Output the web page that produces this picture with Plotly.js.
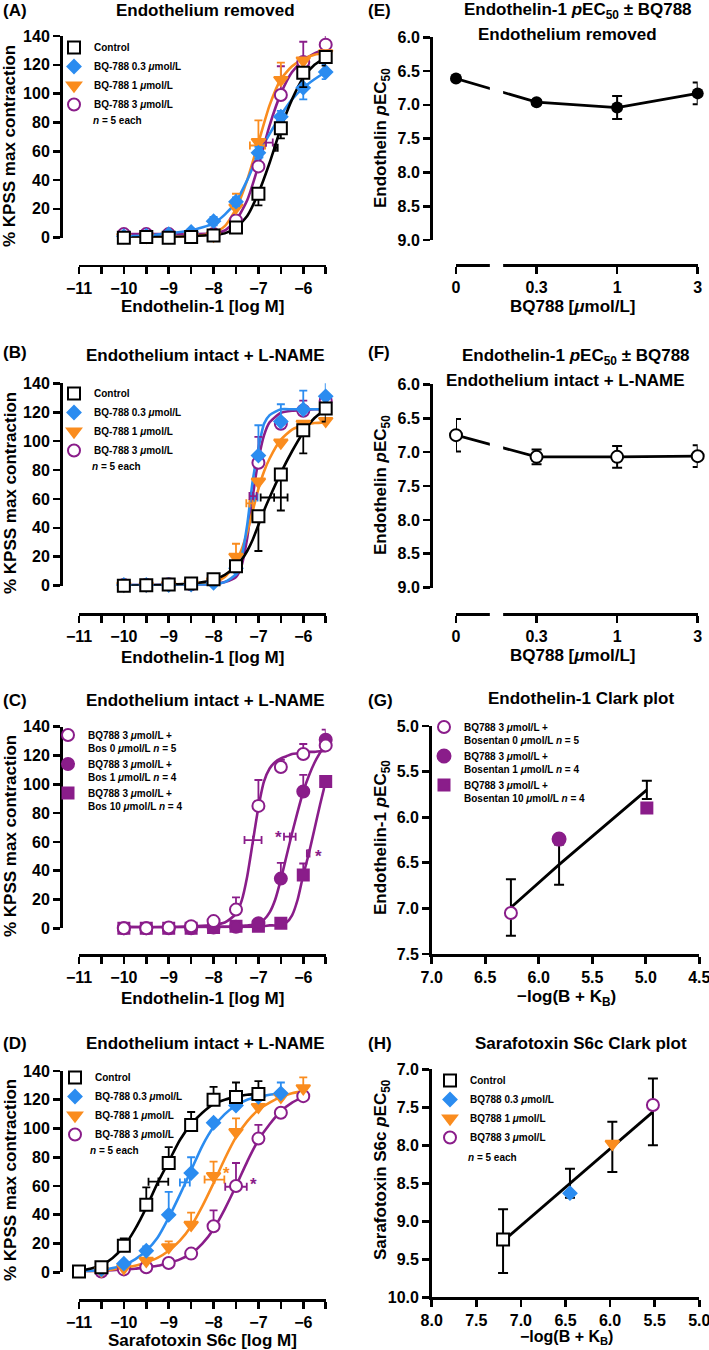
<!DOCTYPE html>
<html><head><meta charset="utf-8">
<script src="https://cdn.plot.ly/plotly-3.0.1.min.js"></script>
<style>html,body{margin:0;padding:0;background:#fff}</style>
</head><body><div id="chart" style="width:709px;height:1350px"></div>
<script>
// ================= DATA =================
// Panels A-C: agonist concentrations (log M)
const concAC = [-10, -9.5, -9, -8.5, -8, -7.5, -7, -6.5, -6, -5.5];

// (A) Endothelium removed
const A_ctrl = [0, 0.5, 0, 0.5, 1.5, 7, 30.5, 76, 114.5, 125.5];
const A_ctrl_lo = [0, 0, 0, 0, 0, 0, 8, 7, 10, 6];
const A_bq03 = [1, 1.5, 2.5, 4, 11.5, 25, 59, 84, 104, 115];
const A_bq03_err = [0, 0, 0, 0, 3, 3, 4, 4, 8, 5];
const A_bq1 = [0.5, 0.5, 0.5, 1, 1.5, 21, 66.5, 109.5, 123, 128];
const A_bq1_hi = [0, 0, 0, 0, 0, 9.5, 15, 12, 0, 0];
const A_bq3 = [2.5, 2.5, 2.5, 2.5, 2.5, 12, 49.5, 99, 122, 134];
const A_bq3_hi = [0, 0, 0, 0, 0, 0, 16, 20, 14, 7];
const A_ec50_x = [-6.61, -6.96, -7.02, -6.83];
const A_ec50_y = [62.5, 58, 64, 66];
const A_ec50_err = [0.04, 0.05, 0.17, 0.15];
const cA_x = [-10, -9.5, -9, -8.5, -8, -7.75, -7.5, -7.25, -7, -6.75, -6.5, -6.25, -6, -5.75, -5.5];
const cA_ctrl = [0, 0.3, 0.5, 1, 2, 3, 7, 15, 31, 52, 76, 96, 111, 120, 125];
const cA_bq03 = [1, 1.5, 3, 5, 10, 16, 25, 40, 58, 72, 85, 96, 104, 110, 115];
const cA_bq1 = [0.5, 0.5, 0.5, 1, 3, 8, 20, 40, 66, 92, 110, 119, 124, 127, 128];
const cA_bq3 = [2.5, 2.5, 2.5, 2.5, 3, 5, 12, 26, 50, 78, 100, 115, 123, 128, 131];

// (B) Endothelium intact + L-NAME
const B_ctrl = [0, 0.3, 0.8, 1.5, 4.5, 13.5, 48, 77, 107.5, 122.5];
const B_ctrl_lo = [0, 0, 0, 0, 0, 0, 24, 25, 16, 9];
const B_bq03 = [0.5, 0.5, 0.5, 0.8, 2, 12, 90, 113.5, 122, 131];
const B_bq03_hi = [0, 0, 0, 0, 0, 0, 21, 12, 13, 10];
const B_bq1 = [0, 0, 0.5, 1, 3, 20, 72, 99, 112, 114];
const B_bq1_hi = [0, 0, 0, 0, 0, 9, 0, 0, 0, 0];
const B_bq3 = [0.5, 0.5, 1, 1, 4, 14, 85, 112, 121, 128];
const B_bq3_hi = [0, 0, 0, 0, 0, 0, 18, 0, 7, 0];
const B_ec50_x = [-6.65, -7.1, -7.2, -7.12];
const B_ec50_y = [61, 61, 57, 62];
const B_ec50_err = [0.3, 0.08, 0.07, 0.08];
const cB_x = [-10, -9.5, -9, -8.5, -8, -7.75, -7.5, -7.375, -7.25, -7.125, -7, -6.875, -6.75, -6.5, -6.25, -6, -5.75, -5.5];
const cB_ctrl = [0, 0.3, 0.7, 1.5, 4, 7.5, 13.5, 18, 24, 32, 42, 52, 61, 78, 93, 106, 116, 122];
const cB_bq03 = [0.5, 0.5, 0.5, 0.5, 1, 2.5, 8, 20, 42, 73, 95, 112, 118, 122, 122, 122, 122, 122];
const cB_bq1 = [0, 0, 0.3, 0.7, 2, 6, 16, 25, 37, 52, 67, 79, 88, 101, 108, 111, 112.5, 113];
const cB_bq3 = [0.5, 0.5, 0.5, 0.5, 1, 2.5, 6, 14, 33, 62, 87, 104, 113, 119.5, 121, 121.5, 122, 122];

// (C) BQ788 3 umol/L + bosentan
const C_bos0 = [0, 0, 0.5, 1.5, 5, 13, 85, 112, 121, 127];
const C_bos0_hi = [0, 0, 0, 0, 0, 8.5, 18, 5, 7, 0];
const C_bos1 = [0, 0, 0, 0, 0.5, 1, 3.5, 34.5, 95, 131];
const C_bos1_hi = [0, 0, 0, 0, 0, 0, 0, 11, 11.5, 7];
const C_bos10 = [0, 0, 0, 0, 0.5, 1.5, 1.5, 3.5, 37, 102];
const C_bos10_hi = [0, 0, 0, 0, 0, 0, 0, 0, 8, 0];
const C_ec50_x = [-7.12, -6.30, -5.89];
const C_ec50_y = [61.3, 63.6, 52];
const C_ec50_err = [0.19, 0.13, 0.03];
const C_star_x = [-6.56, -5.66];
const C_star_y = [63, 50];
const cC_x = [-10, -9, -8, -7.75, -7.5, -7.375, -7.25, -7.125, -7, -6.875, -6.75, -6.625, -6.5, -6.375, -6.25, -6.125, -6, -5.875, -5.75, -5.625, -5.5];
const cC_bos0 = [1, 1, 2.5, 4, 10, 19, 36, 60, 84, 102, 111, 115.5, 118, 119.5, 121, 121.5, 122, 122.5, 122.5, 123, 123];
const cC_bos1 = [0.5, 0.5, 1, 1, 1.5, 1.5, 2, 2.5, 3.5, 6, 11, 20, 34, 50, 66, 81, 95, 106, 115, 122, 128];
const cC_bos10 = [0.5, 0.5, 1, 1, 1, 1, 1, 1, 1.5, 1.5, 2, 2, 2.5, 4, 9, 20, 37, 52, 69, 86, 102];

// (D) Sarafotoxin S6c
const D_ctrl_x = [-11, -10.5, -10, -9.5, -9, -8.5, -8, -7.5, -7];
const D_ctrl = [0.5, 3.5, 18.5, 47, 76, 102.5, 120, 122, 124];
const D_ctrl_hi = [0, 0, 5, 12, 11, 9, 9, 10, 9];
const D_bq03_x = [-10.5, -10, -9.5, -9, -8.5, -8, -7.5, -7, -6.5];
const D_bq03 = [2, 6, 15, 40, 69, 104, 116, 122, 124.5];
const D_bq03_hi = [0, 0, 3, 16, 11, 0, 0, 0, 7.5];
const D_bq1_x = [-10.5, -10, -9.5, -9, -8.5, -8, -7.5, -7, -6.5, -6];
const D_bq1 = [1, 3, 8, 17.5, 33, 67, 97.5, 115, 122, 128];
const D_bq1_hi = [0, 0, 0, 4, 8.5, 10, 9.5, 0, 0, 7.5];
const D_bq3_x = [-10.5, -10, -9.5, -9, -8.5, -8, -7.5, -7, -6.5, -6];
const D_bq3 = [0.5, 2, 3.5, 6.5, 13, 32, 60, 93, 111, 122.5];
const D_bq3_hi = [0, 0, 0, 0, 0, 11, 16, 9.5, 0, 0];
const D_ec50_x = [-9.23, -8.64, -7.98, -7.5];
const D_ec50_y = [63, 62.5, 64.5, 59.5];
const D_ec50_err = [0.22, 0.11, 0.22, 0.24];
const D_star_x = [-7.71, -7.1];
const D_star_y = [69, 61];
const cD_x = [-11, -10.75, -10.5, -10.25, -10, -9.75, -9.5, -9.25, -9, -8.75, -8.5, -8.25, -8, -7.75, -7.5, -7.25, -7, -6.75, -6.5, -6.25, -6];
const cD_ctrl = [1, 2.5, 5, 10, 18, 30, 45, 62, 77, 92, 103, 111, 117, 120, 122, 123.5, 124];
const cD_bq03 = [0.5, 1, 1.5, 3, 5, 9, 15, 24, 38, 54, 71, 88, 101, 110, 116, 120, 122, 123.5, 124.5];
const cD_bq1 = [0.5, 0.5, 1, 2, 3, 4.5, 7, 10, 15, 22, 32, 46, 62, 79, 94, 105, 113, 118, 122, 124.5, 126];
const cD_bq3 = [0.5, 0.5, 1, 1.5, 2, 2.5, 3.5, 4.5, 6.5, 9, 13, 20, 30, 44, 60, 77, 92, 103, 112, 118, 122];

// (E)/(F) pEC50 vs BQ788
const bqLabels = ["0", "0.3", "1", "3"];
const E_pec50 = [6.61, 6.96, 7.04, 6.83];
const E_err = [0.02, 0.03, 0.17, 0.16];
const F_pec50 = [6.75, 7.07, 7.07, 7.06];
const F_err = [0.24, 0.11, 0.16, 0.16];

// (G) Endothelin-1 Clark plot
const G_x = [6.26, 5.81, 4.99];
const G_y = [7.05, 6.24, 5.90];
const G_fit = [6.99, 6.52, 5.70];
const G_err = [0.31, 0.22, 0.10];

// (H) Sarafotoxin S6c Clark plot
const H_x = [7.2, 6.45, 5.975, 5.52];
const H_y = [9.24, 8.63, 7.98, 7.47];
const H_fit = [9.26, 8.50, 8.02, 7.56];
const H_err = [0.42, 0.19, 0.33, 0.44];

// tick labels
const doseTicks = [-11, -10, -9, -8, -7, -6];
const doseTickText = ['\u221211', '\u221210', '\u22129', '\u22128', '\u22127', '\u22126'];

// ================= STYLE =================
const FONT = '"Liberation Sans", Arial, Helvetica, sans-serif';
const BLACK = '#000000', BLUE = '#2B8CF0', ORANGE = '#FA8C1E', PURPLE = '#8A1D8A';
const W = 709, H = 1350;
const px = v => v / W;
const py = v => 1 - v / H;
const zeros = a => a.map(() => 0);

const data = [];
function curve(xa, ya, x, y, color) {
  data.push({type: 'scatter', mode: 'lines', xaxis: xa, yaxis: ya, x: x, y: y,
    line: {color: color, width: 2.6, shape: 'spline', smoothing: 0.6},
    showlegend: false, hoverinfo: 'skip', cliponaxis: false});
}
function points(o) {
  const hi = o.hi || zeros(o.y), lo = o.lo || zeros(o.y);
  data.push({type: 'scatter', mode: 'markers', xaxis: o.xa, yaxis: o.ya, x: o.x, y: o.y,
    name: o.name, legend: o.legend, legendrank: o.rank, showlegend: !!o.name, cliponaxis: false,
    marker: {symbol: o.sym, size: o.size, color: o.fill, line: {color: o.color, width: 2}},
    error_y: {type: 'data', symmetric: false, array: hi, arrayminus: lo, color: o.color, thickness: 1.8, width: 4},
    hoverinfo: 'skip'});
}
function ec50(xa, ya, xs, ys, errs, colors) {
  xs.forEach((x, i) => data.push({type: 'scatter', mode: 'markers', xaxis: xa, yaxis: ya,
    x: [x], y: [ys[i]], showlegend: false, cliponaxis: false, hoverinfo: 'skip',
    marker: {symbol: 'line-ns', size: 6, color: colors[i], line: {width: 1.8, color: colors[i]}},
    error_x: {type: 'data', array: [errs[i]], color: colors[i], thickness: 1.8, width: 4}}));
}

// ---- (A)
curve('x', 'y', cA_x, cA_bq3, PURPLE);
curve('x', 'y', cA_x, cA_bq1, ORANGE);
curve('x', 'y', cA_x, cA_bq03, BLUE);
curve('x', 'y', cA_x, cA_ctrl, BLACK);
ec50('x', 'y', A_ec50_x, A_ec50_y, A_ec50_err, [BLACK, BLUE, ORANGE, PURPLE]);
points({xa: 'x', ya: 'y', x: concAC, y: A_bq3, hi: A_bq3_hi, sym: 'circle', size: 12, color: PURPLE, fill: '#fff', name: 'BQ-788 3 <i>\u03bc</i>mol/L', legend: 'legend', rank: 4});
points({xa: 'x', ya: 'y', x: concAC, y: A_bq1, hi: A_bq1_hi, sym: 'triangle-down', size: 12, color: ORANGE, fill: ORANGE, name: 'BQ-788 1 <i>\u03bc</i>mol/L', legend: 'legend', rank: 3});
points({xa: 'x', ya: 'y', x: concAC, y: A_bq03, hi: A_bq03_err, lo: A_bq03_err, sym: 'diamond', size: 10, color: BLUE, fill: BLUE, name: 'BQ-788 0.3 <i>\u03bc</i>mol/L', legend: 'legend', rank: 2});
points({xa: 'x', ya: 'y', x: concAC, y: A_ctrl, lo: A_ctrl_lo, sym: 'square', size: 12, color: BLACK, fill: '#fff', name: 'Control', legend: 'legend', rank: 1});

// ---- (B)
curve('x2', 'y2', cB_x, cB_bq3, PURPLE);
curve('x2', 'y2', cB_x, cB_bq1, ORANGE);
curve('x2', 'y2', cB_x, cB_bq03, BLUE);
curve('x2', 'y2', cB_x, cB_ctrl, BLACK);
ec50('x2', 'y2', B_ec50_x, B_ec50_y, B_ec50_err, [BLACK, BLUE, ORANGE, PURPLE]);
points({xa: 'x2', ya: 'y2', x: concAC, y: B_bq3, hi: B_bq3_hi, sym: 'circle', size: 12, color: PURPLE, fill: '#fff', name: 'BQ-788 3 <i>\u03bc</i>mol/L', legend: 'legend2', rank: 4});
points({xa: 'x2', ya: 'y2', x: concAC, y: B_bq1, hi: B_bq1_hi, sym: 'triangle-down', size: 12, color: ORANGE, fill: ORANGE, name: 'BQ-788 1 <i>\u03bc</i>mol/L', legend: 'legend2', rank: 3});
points({xa: 'x2', ya: 'y2', x: concAC, y: B_bq03, hi: B_bq03_hi, sym: 'diamond', size: 10, color: BLUE, fill: BLUE, name: 'BQ-788 0.3 <i>\u03bc</i>mol/L', legend: 'legend2', rank: 2});
points({xa: 'x2', ya: 'y2', x: concAC, y: B_ctrl, lo: B_ctrl_lo, sym: 'square', size: 12, color: BLACK, fill: '#fff', name: 'Control', legend: 'legend2', rank: 1});

// ---- (C)
curve('x3', 'y3', cC_x, cC_bos10, PURPLE);
curve('x3', 'y3', cC_x, cC_bos1, PURPLE);
curve('x3', 'y3', cC_x, cC_bos0, PURPLE);
ec50('x3', 'y3', C_ec50_x, C_ec50_y, C_ec50_err, [PURPLE, PURPLE, PURPLE]);
points({xa: 'x3', ya: 'y3', x: concAC, y: C_bos10, hi: C_bos10_hi, sym: 'square', size: 11, color: PURPLE, fill: PURPLE, name: 'BQ788 3 <i>\u03bc</i>mol/L +<br>Bos 10 <i>\u03bc</i>mol/L <i>n</i> = 4', legend: 'legend3', rank: 3});
points({xa: 'x3', ya: 'y3', x: concAC, y: C_bos1, hi: C_bos1_hi, sym: 'circle', size: 12, color: PURPLE, fill: PURPLE, name: 'BQ788 3 <i>\u03bc</i>mol/L +<br>Bos 1 <i>\u03bc</i>mol/L <i>n</i> = 4', legend: 'legend3', rank: 2});
points({xa: 'x3', ya: 'y3', x: concAC, y: C_bos0, hi: C_bos0_hi, sym: 'circle', size: 12, color: PURPLE, fill: '#fff', name: 'BQ788 3 <i>\u03bc</i>mol/L +<br>Bos 0 <i>\u03bc</i>mol/L <i>n</i> = 5', legend: 'legend3', rank: 1});

// ---- (D)
curve('x4', 'y4', cD_x, cD_bq3, PURPLE);
curve('x4', 'y4', cD_x, cD_bq1, ORANGE);
curve('x4', 'y4', cD_x.slice(0, cD_bq03.length), cD_bq03, BLUE);
curve('x4', 'y4', cD_x.slice(0, cD_ctrl.length), cD_ctrl, BLACK);
ec50('x4', 'y4', D_ec50_x, D_ec50_y, D_ec50_err, [BLACK, BLUE, ORANGE, PURPLE]);
points({xa: 'x4', ya: 'y4', x: D_bq3_x, y: D_bq3, hi: D_bq3_hi, sym: 'circle', size: 12, color: PURPLE, fill: '#fff', name: 'BQ-788 3 <i>\u03bc</i>mol/L', legend: 'legend4', rank: 4});
points({xa: 'x4', ya: 'y4', x: D_bq1_x, y: D_bq1, hi: D_bq1_hi, sym: 'triangle-down', size: 12, color: ORANGE, fill: ORANGE, name: 'BQ-788 1 <i>\u03bc</i>mol/L', legend: 'legend4', rank: 3});
points({xa: 'x4', ya: 'y4', x: D_bq03_x, y: D_bq03, hi: D_bq03_hi, sym: 'diamond', size: 10, color: BLUE, fill: BLUE, name: 'BQ-788 0.3 <i>\u03bc</i>mol/L', legend: 'legend4', rank: 2});
points({xa: 'x4', ya: 'y4', x: D_ctrl_x, y: D_ctrl, hi: D_ctrl_hi, sym: 'square', size: 12, color: BLACK, fill: '#fff', name: 'Control', legend: 'legend4', rank: 1});

// ---- (E)
data.push({type: 'scatter', mode: 'lines+markers', xaxis: 'x5', yaxis: 'y5', x: bqLabels, y: E_pec50,
  line: {color: BLACK, width: 2.8}, marker: {symbol: 'circle', size: 12, color: BLACK},
  error_y: {type: 'data', array: E_err, color: BLACK, thickness: 2, width: 5},
  showlegend: false, cliponaxis: false, hoverinfo: 'skip'});
// ---- (F)
data.push({type: 'scatter', mode: 'lines+markers', xaxis: 'x6', yaxis: 'y6', x: bqLabels, y: F_pec50,
  line: {color: BLACK, width: 2.8}, marker: {symbol: 'circle', size: 12, color: '#fff', line: {color: BLACK, width: 2}},
  error_y: {type: 'data', array: F_err, color: BLACK, thickness: 2, width: 5},
  showlegend: false, cliponaxis: false, hoverinfo: 'skip'});

// ---- (G)
data.push({type: 'scatter', mode: 'lines', xaxis: 'x7', yaxis: 'y7', x: G_x, y: G_fit,
  line: {color: BLACK, width: 2.8}, showlegend: false, hoverinfo: 'skip', cliponaxis: false});
data.push({type: 'scatter', mode: 'markers', xaxis: 'x7', yaxis: 'y7', x: G_x, y: G_fit,
  marker: {size: 1, color: 'rgba(0,0,0,0)'}, error_y: {type: 'data', array: G_err, color: BLACK, thickness: 2, width: 5},
  showlegend: false, hoverinfo: 'skip', cliponaxis: false});
const G_syms = ['circle', 'circle', 'square'];
const G_fills = ['#fff', PURPLE, PURPLE];
const G_sizes = [12, 13, 11];
const G_names = ['BQ788 3 <i>\u03bc</i>mol/L +<br>Bosentan 0 <i>\u03bc</i>mol/L <i>n</i> = 5',
                 'BQ788 3 <i>\u03bc</i>mol/L +<br>Bosentan 1 <i>\u03bc</i>mol/L <i>n</i> = 4',
                 'BQ788 3 <i>\u03bc</i>mol/L +<br>Bosentan 10 <i>\u03bc</i>mol/L <i>n</i> = 4'];
G_x.forEach((x, i) => data.push({type: 'scatter', mode: 'markers', xaxis: 'x7', yaxis: 'y7', x: [x], y: [G_y[i]],
  marker: {symbol: G_syms[i], size: G_sizes[i], color: G_fills[i], line: {color: PURPLE, width: 2}},
  name: G_names[i], legend: 'legend5', legendrank: i + 1, cliponaxis: false, hoverinfo: 'skip'}));

// ---- (H)
data.push({type: 'scatter', mode: 'lines', xaxis: 'x8', yaxis: 'y8', x: H_x, y: H_fit,
  line: {color: BLACK, width: 2.8}, showlegend: false, hoverinfo: 'skip', cliponaxis: false});
data.push({type: 'scatter', mode: 'markers', xaxis: 'x8', yaxis: 'y8', x: H_x, y: H_fit,
  marker: {size: 1, color: 'rgba(0,0,0,0)'}, error_y: {type: 'data', array: H_err, color: BLACK, thickness: 2, width: 5},
  showlegend: false, hoverinfo: 'skip', cliponaxis: false});
const H_syms = ['square', 'diamond', 'triangle-down', 'circle'];
const H_cols = [BLACK, BLUE, ORANGE, PURPLE];
const H_fills = ['#fff', BLUE, ORANGE, '#fff'];
const H_sizes = [12, 10, 12, 12];
const H_names = ['Control', 'BQ788 0.3 <i>\u03bc</i>mol/L', 'BQ788 1 <i>\u03bc</i>mol/L', 'BQ788 3 <i>\u03bc</i>mol/L'];
H_x.forEach((x, i) => data.push({type: 'scatter', mode: 'markers', xaxis: 'x8', yaxis: 'y8', x: [x], y: [H_y[i]],
  marker: {symbol: H_syms[i], size: H_sizes[i], color: H_fills[i], line: {color: H_cols[i], width: 2}},
  name: H_names[i], legend: 'legend6', legendrank: i + 1, cliponaxis: false, hoverinfo: 'skip'}));

// ================= LAYOUT =================
const axCommon = {showline: true, linecolor: BLACK, linewidth: 2.6, ticks: 'outside', ticklen: 7, tickwidth: 2.6,
  tickcolor: BLACK, showgrid: false, zeroline: false, fixedrange: true, ticklabeloverflow: 'allow',
  tickfont: {family: FONT, size: 16, color: BLACK, weight: 'bold'}};
function doseAxes(yTop, yBot, xLine) {
  return [
    Object.assign({}, axCommon, {domain: [px(79), px(325.7)], range: [-11, -5.5], anchor: 'free', position: py(xLine),
      tickmode: 'array', tickvals: doseTicks, ticktext: doseTickText,
      minor: {tickmode: 'linear', tick0: -11, dtick: 0.5, ticks: 'outside', ticklen: 7, tickwidth: 2.6, tickcolor: BLACK, showgrid: false}}),
    Object.assign({}, axCommon, {domain: [py(yBot), py(yTop)], range: [0, 140], anchor: 'free', position: px(61),
      tickmode: 'linear', tick0: 0, dtick: 20})
  ];
}
function pecAxes(yTop, yBot, xLine) {
  return [
    Object.assign({}, axCommon, {type: 'category', categoryorder: 'array', categoryarray: bqLabels, range: [0, 3],
      domain: [px(456), px(697.7)], anchor: 'free', position: py(xLine)}),
    Object.assign({}, axCommon, {domain: [py(yBot), py(yTop)], range: [9, 6], anchor: 'free', position: px(431),
      tickmode: 'linear', tick0: 6, dtick: 0.5, tickformat: '.1f'})
  ];
}
const [xA, yA] = doseAxes(36, 237.7, 265.7);
const [xB, yB] = doseAxes(383.3, 585.7, 614);
const [xC, yC] = doseAxes(726.7, 928.3, 955);
const [xD, yD] = doseAxes(1071, 1272.3, 1300);
const [xE, yE] = pecAxes(37.3, 240, 265);
const [xF, yF] = pecAxes(384.3, 587.7, 614);
const xG = Object.assign({}, axCommon, {domain: [px(431.7), px(699.3)], range: [7, 4.5], anchor: 'y7', tickmode: 'linear', tick0: 4.5, dtick: 0.5, tickformat: '.1f'});
const yG = Object.assign({}, axCommon, {domain: [py(954), py(726)], range: [7.5, 5], anchor: 'x7', tickmode: 'linear', tick0: 5, dtick: 0.5, tickformat: '.1f'});
const xH = Object.assign({}, axCommon, {domain: [px(431.7), px(699.3)], range: [8, 5], anchor: 'y8', tickmode: 'linear', tick0: 5, dtick: 0.5, tickformat: '.1f'});
const yH = Object.assign({}, axCommon, {domain: [py(1297.3), py(1069.3)], range: [10, 7], anchor: 'x8', tickmode: 'linear', tick0: 7, dtick: 0.5, tickformat: '.1f'});

const annotations = [];
function txt(text, x, y, o) {
  o = o || {};
  annotations.push(Object.assign({text: text, xref: 'paper', yref: 'paper', x: px(x), y: py(y), showarrow: false,
    xanchor: 'center', yanchor: 'middle', font: {family: FONT, size: 17, color: BLACK, weight: 'bold'}}, o));
}
// panel letters and titles
[['(A)', 11], ['(B)', 353], ['(C)', 700], ['(D)', 1043]].forEach(([t, y]) => txt(t, 1, y, {xanchor: 'left'}));
[['(E)', 11], ['(F)', 353], ['(G)', 700], ['(H)', 1043]].forEach(([t, y]) => txt(t, 366, y, {xanchor: 'left'}));
txt('Endothelium removed', 205, 11);
txt('Endothelium intact + L-NAME', 205, 355);
txt('Endothelium intact + L-NAME', 205, 700);
txt('Endothelium intact + L-NAME', 205, 1043);
txt('Endothelin-1 <i>p</i>EC<sub>50</sub> \u00b1 BQ788', 578, 11);
txt('Endothelium removed', 567, 34);
txt('Endothelin-1 <i>p</i>EC<sub>50</sub> \u00b1 BQ788', 576, 357);
txt('Endothelium intact + L-NAME', 565, 381);
txt('Endothelin-1 Clark plot', 581, 698);
txt('Sarafotoxin S6c Clark plot', 581, 1043);
// axis titles
const yT = {textangle: -90};
txt('% KPSS max contraction', 10, 146, yT);
txt('% KPSS max contraction', 10, 493, yT);
txt('% KPSS max contraction', 10, 836, yT);
txt('% KPSS max contraction', 10, 1180, yT);
txt('Endothelin-1 [log M]', 202, 306);
txt('Endothelin-1 [log M]', 202, 657);
txt('Endothelin-1 [log M]', 202, 998);
txt('Sarafotoxin S6c [log M]', 202, 1340);
txt('Endothelin <i>p</i>EC<sub>50</sub>', 382, 138, yT);
txt('Endothelin <i>p</i>EC<sub>50</sub>', 382, 485, yT);
txt('BQ788 [<i>\u03bc</i>mol/L]', 573, 306);
txt('BQ788 [<i>\u03bc</i>mol/L]', 573, 656);
txt('Endothelin-1 <i>p</i>EC<sub>50</sub>', 382, 838, yT);
txt('Sarafotoxin S6c <i>p</i>EC<sub>50</sub>', 382, 1170, yT);
txt('\u2212log(B + K<sub>B</sub>)', 566, 998);
txt('\u2212log(B + K<sub>B</sub>)', 566, 1337, {font: {family: FONT, size: 16, color: BLACK, weight: 'bold'}});
// n labels
const small = {xanchor: 'left', font: {family: FONT, size: 10, color: BLACK, weight: 'bold'}};
txt('<i>n</i> = 5 each', 91, 121, small);
txt('<i>n</i> = 5 each', 90, 466, small);
txt('<i>n</i> = 5 each', 88, 1150, small);
txt('<i>n</i> = 5 each', 466, 1157, small);
// significance stars
C_star_x.forEach((x, i) => annotations.push({text: '*', xref: 'x3', yref: 'y3', x: x, y: C_star_y[i], showarrow: false,
  font: {family: FONT, size: 17, color: PURPLE, weight: 'bold'}}));
D_star_x.forEach((x, i) => annotations.push({text: '*', xref: 'x4', yref: 'y4', x: x, y: D_star_y[i], showarrow: false,
  font: {family: FONT, size: 17, color: [ORANGE, PURPLE][i], weight: 'bold'}}));

function leg(xPx, yPx, extra) {
  return Object.assign({x: px(xPx), y: py(yPx), xanchor: 'left', yanchor: 'top', bgcolor: 'rgba(0,0,0,0)',
    borderwidth: 0, tracegroupgap: 0, traceorder: 'normal',
    font: {family: FONT, size: 10, color: BLACK, weight: 'bold'}}, extra || {});
}

// x-axis break masks for E and F
const shapes = ['x5', 'x6'].map((xa, i) => ({type: 'rect', xref: xa + ' domain', yref: (i ? 'y6' : 'y5') + ' domain',
  x0: 0.14, x1: 0.195, y0: -0.15, y1: 1, fillcolor: '#ffffff', line: {width: 0}, layer: 'above'}));

const layout = {
  width: W, height: H, margin: {l: 0, r: 0, t: 0, b: 0, pad: 0},
  paper_bgcolor: '#fff', plot_bgcolor: 'rgba(0,0,0,0)',
  font: {family: FONT, color: BLACK},
  xaxis: xA, yaxis: yA, xaxis2: xB, yaxis2: yB, xaxis3: xC, yaxis3: yC, xaxis4: xD, yaxis4: yD,
  xaxis5: xE, yaxis5: yE, xaxis6: xF, yaxis6: yF, xaxis7: xG, yaxis7: yG, xaxis8: xH, yaxis8: yH,
  legend: leg(54, 33), legend2: leg(54, 379), legend3: leg(48, 722, {valign: 'top'}),
  legend4: leg(55, 1063), legend5: leg(424, 714, {valign: 'top'}), legend6: leg(430, 1066),
  annotations: annotations, shapes: shapes, showlegend: true
};

Plotly.newPlot('chart', data, layout, {staticPlot: true, displayModeBar: false});
</script>
</body></html>
